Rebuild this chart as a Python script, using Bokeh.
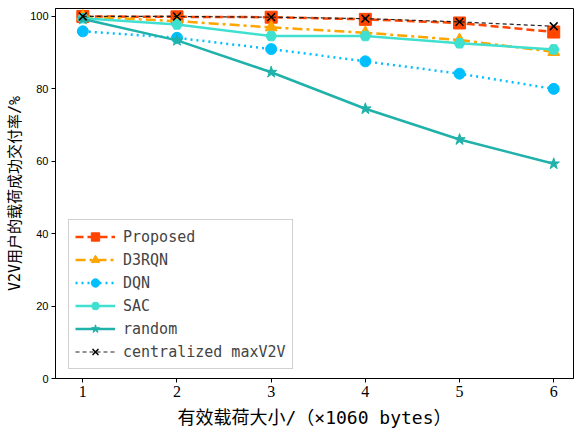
from bokeh.plotting import figure
from bokeh.models import Legend, LegendItem, Range1d, FixedTicker
from bokeh.embed import file_html
from bokeh.resources import INLINE

x = [1, 2, 3, 4, 5, 6]
proposed = [100.0, 99.9, 99.8, 99.2, 98.2, 95.7]
d3rqn = [100.0, 98.7, 97.0, 95.5, 93.5, 90.2]
dqn = [95.9, 94.1, 91.0, 87.6, 84.2, 80.0]
sac = [99.5, 97.8, 94.6, 94.6, 92.6, 90.9]
rnd = [99.3, 93.4, 84.6, 74.5, 66.0, 59.3]
central = [100.0, 100.0, 99.8, 99.4, 98.5, 97.3]

names = ["Proposed", "D3RQN", "DQN", "SAC", "random", "centralized maxV2V"]
y_ticks = [0, 20, 40, 60, 80, 100]
x_ticks = [1, 2, 3, 4, 5, 6]

MONO_CJK = "'DejaVu Sans Mono', 'Noto Sans CJK SC'"

p = figure(width=574, height=430, output_backend="svg", toolbar_location=None,
           x_range=Range1d(0.71, 6.21), y_range=Range1d(0, 102.2),
           min_border_left=55, min_border_right=1, min_border_top=8, min_border_bottom=0)
p.background_fill_color = "white"
p.border_fill_color = "white"
p.grid.visible = False
p.outline_line_color = "black"
p.outline_line_width = 1

series = [
    (proposed, "#FF4500", "8 4", "square", 12, 2.5),
    (d3rqn, "#FFA500", "10 4 3 4", "triangle", 12, 2.5),
    (dqn, "#00BFFF", "2 4", "circle", 11, 2.5),
    (sac, "#40E0D0", "solid", "hex", 11, 2.5),
    (rnd, "#20B2AA", "solid", "star", 12, 2.5),
]
items = []
for (ys, col, dash, mk, sz, lw), nm in zip(series, names):
    l = p.line(x, ys, line_color=col, line_width=lw, line_dash=dash)
    s = p.scatter(x, ys, marker=mk, size=sz, fill_color=col, line_color=col)
    items.append(LegendItem(label=nm, renderers=[l, s]))

l = p.line(x, central, line_color="#222222", line_width=1.2, line_dash="4 3")
s = p.scatter(x, central, marker="x", size=11, line_color="black", line_width=1.5)
items.append(LegendItem(label=names[5], renderers=[l, s]))

legend = Legend(items=items, location=(13, 9))
legend.label_text_font = "DejaVu Sans Mono"
legend.label_text_font_size = "15px"
legend.glyph_width = 40
legend.glyph_height = 21
legend.label_height = 21
legend.label_standoff = 8
legend.spacing = 2
legend.padding = 6
legend.margin = 0
legend.border_line_color = "#d0d0d0"
legend.border_line_alpha = 1
legend.background_fill_alpha = 0.85
p.add_layout(legend)

p.yaxis.ticker = FixedTicker(ticks=y_ticks)
p.xaxis.ticker = FixedTicker(ticks=x_ticks)
p.yaxis.major_label_text_font = "Liberation Sans"
p.yaxis.major_label_text_font_size = "11px"
p.xaxis.major_label_text_font = "Liberation Serif"
p.xaxis.major_label_text_font_size = "16px"
p.axis.minor_tick_line_color = None
p.axis.major_tick_in = 0
p.axis.major_tick_out = 4
p.axis.major_label_standoff = 3
p.axis.axis_line_color = "black"
p.axis.major_tick_line_color = "black"
p.axis.major_label_text_color = "black"

p.xaxis.axis_label = "有效载荷大小/（×1060 bytes）"
p.yaxis.axis_label = "V2V用户的载荷成功交付率/%"
p.axis.axis_label_text_font = MONO_CJK
p.axis.axis_label_text_font_style = "normal"
p.xaxis.axis_label_text_font_size = "18px"
p.yaxis.axis_label_text_font_size = "15px"
p.axis.axis_label_text_color = "black"
p.xaxis.axis_label_standoff = 7
p.yaxis.axis_label_standoff = 3

open("out.html", "w").write(file_html(p, INLINE))
